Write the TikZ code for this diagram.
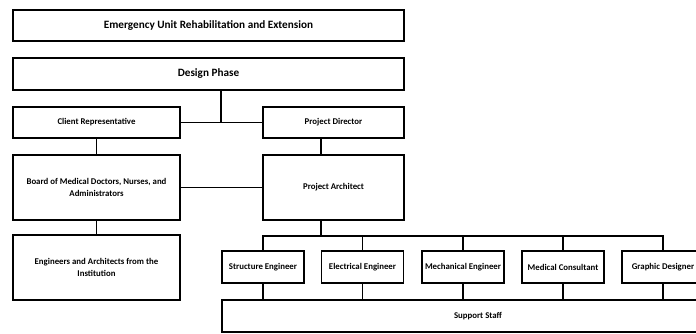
\documentclass[tikz,border=0pt]{standalone}
\usepackage{fontspec}
\setmainfont{Carlito}
\usepackage{tikz}
\usetikzlibrary{positioning, calc}

\begin{document}
\begin{tikzpicture}[
        x=0.75pt, y=-0.75pt,
        box/.style={rectangle, draw=black, line width=1.1pt, inner sep=0pt, align=center, font=\fontsize{6.6}{9}\selectfont\bfseries},
        headbox/.style={box, minimum width=293.25pt, font=\fontsize{8.4}{10}\selectfont\bfseries},
        sidebox/.style={box, minimum width=125.25pt},
        teambox/.style={box, minimum width=61.5pt, minimum height=24pt},
        link/.style={line width=1.1pt, black}
    ]
        \useasboundingbox (0,0) rectangle (696,334);

        % Top of the chart
        \node[headbox, minimum height=23.25pt] (title) at (208.5,25.5) {Emergency Unit Rehabilitation and Extension};
        \node[headbox, minimum height=24pt] (design) at (208.5,74) {Design Phase};

        % Client side
        \node[sidebox, minimum height=23.25pt] (client) at (96.5,122.5) {Client Representative};
        \node[sidebox, minimum height=48.75pt] (board) at (96.5,187.5) {Board of Medical Doctors, Nurses, and\\Administrators};
        \node[sidebox, minimum height=48.75pt] (engineers) at (96.5,267.5) {Engineers and Architects from the\\Institution};

        % Project side
        \node[box, minimum width=105.75pt, minimum height=23.25pt] (director) at (333.5,122.5) {Project Director};
        \node[box, minimum width=105.75pt, minimum height=48.75pt] (architect) at (333.5,187.5) {Project Architect};

        % Design team
        \node[teambox] (structure) at (263,267) {Structure Engineer};
        \node[teambox] (electrical) at (362.5,267) {Electrical Engineer};
        \node[teambox] (mechanical) at (463,267) {Mechanical Engineer};
        \node[teambox] (medical) at (563,267) {Medical Consultant};
        \node[teambox] (graphic) at (663,267) {Graphic Designer};
        \node[box, minimum width=384pt, minimum height=24pt] (support) at (478,316) {Support Staff};

        \coordinate (split) at (221,122.5);
        \coordinate (spine) at (321,236);

        \draw[link] (client) -- (director);
        \draw[link] (design.south -| split) -- (split);
        \draw[link] (client) -- (board);
        \draw[link] (board) -- (engineers);
        \draw[link] (board) -- (architect);
        \draw[link] (director.south -| spine) -- (architect.north -| spine);
        \draw[link] (architect.south -| spine) -- (spine);
        \draw[link] (structure.north) |- (spine) -| (graphic.north);
        \foreach \n in {electrical, mechanical, medical}
            \draw[link] (\n.north) -- (\n.north |- spine);
        \foreach \n in {structure, electrical, mechanical, medical, graphic}
            \draw[link] (\n.south) -- (\n.south |- support.north);
    \end{tikzpicture}
\end{document}
